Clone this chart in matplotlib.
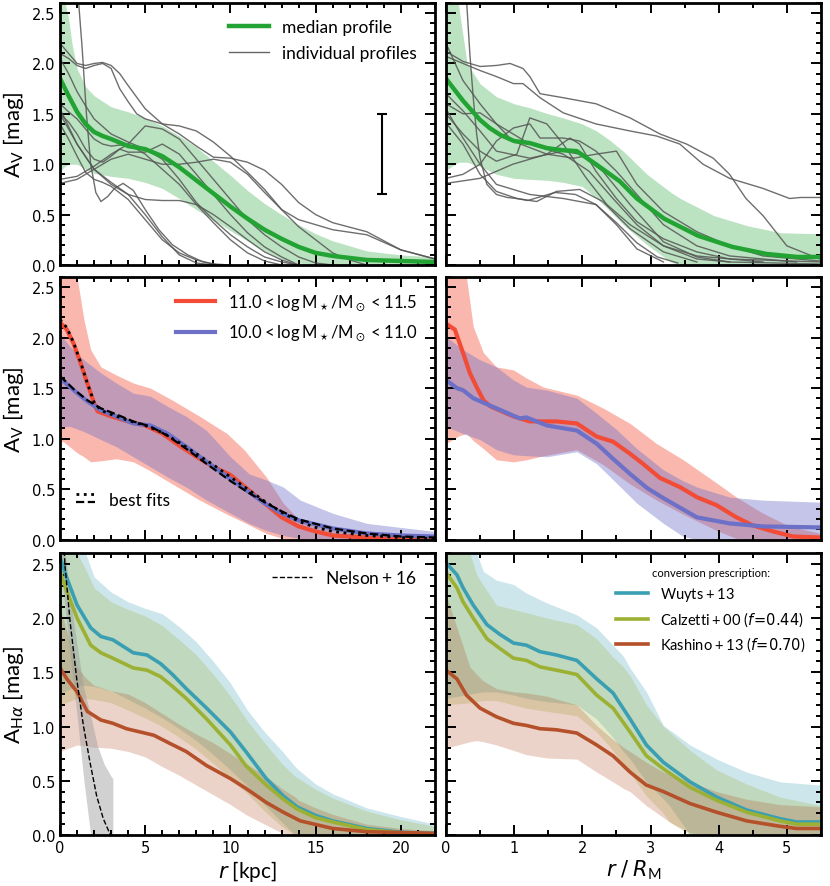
import numpy as np
import matplotlib
matplotlib.use("Agg")
import matplotlib.pyplot as plt
from matplotlib.ticker import MultipleLocator
from matplotlib.lines import Line2D
from matplotlib.legend_handler import HandlerBase

plt.rcParams['font.family'] = ['DejaVu Sans']
plt.rcParams['mathtext.fontset'] = 'dejavusans'
TXT = ['Lato', 'DejaVu Sans']

# ---------------- top row: A_V profiles, median + individuals ----------------
med_kpc = [0, 0.5, 1, 1.5, 2, 2.5, 3, 4, 5, 6, 7, 8, 9, 10, 11, 12, 13, 14, 15, 16, 17, 18, 20, 22]
med_kpc_av = [1.85, 1.68, 1.52, 1.4, 1.32, 1.28, 1.25, 1.18, 1.15, 1.08, 0.97, 0.84, 0.71, 0.58,
              0.46, 0.35, 0.26, 0.18, 0.12, 0.09, 0.07, 0.05, 0.04, 0.03]
band_kpc = [0, 0.3, 0.5, 0.7, 1, 1.5, 2, 3, 4, 5, 6, 7, 8, 9, 10, 11, 12, 13, 14, 15, 16, 18, 20, 22]
band_kpc_hi = [2.6, 2.6, 2.45, 2.2, 1.95, 1.77, 1.68, 1.57, 1.52, 1.46, 1.38, 1.28, 1.17, 1.03, 0.89,
               0.74, 0.61, 0.5, 0.4, 0.31, 0.24, 0.14, 0.1, 0.08]
band_kpc_lo = [0.93, 0.98, 1.0, 1.0, 1.0, 0.95, 0.91, 0.88, 0.86, 0.82, 0.76, 0.66, 0.55, 0.45, 0.34,
               0.24, 0.14, 0.06, 0.02, 0, 0, 0, 0, 0]

ind_kpc_x = [
    [1.05, 1.3, 1.55, 1.8, 2.1, 2.4, 2.8, 3.2, 3.7, 4.3, 5.0, 5.8, 6.6, 7.5, 8.4, 9.3],
    [0, 0.5, 1, 1.5, 2, 2.5, 3, 3.5, 4, 5, 6, 7, 8, 9, 10, 11, 12, 13, 14, 15, 16, 18, 20, 22],
    [0, 0.5, 1, 1.5, 2, 2.5, 3, 3.5, 4, 4.5, 5, 6, 7, 8, 9, 10, 11, 12, 13, 14, 15, 16, 17, 18],
    [0, 0.5, 1, 1.5, 2, 3, 4, 5, 6, 7, 8, 9, 10, 11, 12, 13, 14],
    [0, 0.5, 1, 1.5, 2, 2.5, 3, 4, 5, 6, 7, 8, 9, 10, 11, 12, 13],
    [0, 0.5, 1, 1.5, 2, 2.5, 3, 3.5, 4, 5, 6, 7, 8, 9, 10, 11, 12, 13, 14],
    [0, 0.5, 1, 1.5, 2, 2.5, 3, 4, 5, 6, 7, 8, 9, 10],
    [0, 1, 2, 3, 4, 5, 6, 7, 8, 9, 10, 11, 12, 13, 14, 15, 16],
    [0, 1, 2, 3, 4, 5, 6, 7, 8, 9, 10, 11, 12, 13, 14, 16, 18, 20, 22],
    [0, 1, 2, 3, 4, 5, 6, 7, 8, 9, 10, 11, 12, 13, 14],
    [0, 1, 2, 3, 4, 5, 6, 7, 8, 9],
]
ind_kpc_y = [
    [2.7, 2.15, 1.5, 1.0, 0.72, 0.63, 0.68, 0.76, 0.81, 0.74, 0.55, 0.35, 0.2, 0.1, 0.03, 0.0],
    [2.2, 2.1, 2.0, 1.98, 2.0, 2.01, 1.98, 1.9, 1.78, 1.55, 1.40, 1.30, 1.18, 1.07, 1.06, 1.02, 0.94,
     0.80, 0.62, 0.5, 0.42, 0.33, 0.15, 0.06],
    [2.1, 2.05, 1.98, 1.95, 1.98, 2.0, 1.95, 1.75, 1.62, 1.5, 1.45, 1.40, 1.38, 1.33, 1.22, 1.08, 0.92,
     0.75, 0.55, 0.38, 0.25, 0.12, 0.05, 0.0],
    [2.05, 1.9, 1.72, 1.58, 1.45, 1.30, 1.22, 1.15, 1.05, 0.85, 0.62, 0.45, 0.30, 0.18, 0.08, 0.03, 0.0],
    [1.6, 1.52, 1.45, 1.35, 1.25, 1.2, 1.18, 1.2, 1.1, 0.95, 0.8, 0.6, 0.42, 0.25, 0.12, 0.04, 0.0],
    [1.5, 1.42, 1.3, 1.15, 1.05, 1.02, 1.08, 1.15, 1.12, 1.12, 1.2, 1.1, 0.9, 0.7, 0.5, 0.32, 0.18, 0.08, 0.0],
    [1.4, 1.25, 1.08, 0.92, 0.85, 0.82, 0.78, 0.65, 0.45, 0.25, 0.12, 0.05, 0.01, 0.0],
    [0.85, 0.88, 0.98, 1.1, 1.2, 1.38, 1.35, 1.25, 1.05, 0.85, 0.65, 0.45, 0.3, 0.18, 0.08, 0.02, 0.0],
    [0.81, 0.85, 0.95, 1.05, 1.1, 1.05, 1.0, 1.0, 1.02, 1.05, 1.02, 0.9, 0.72, 0.55, 0.45, 0.35, 0.30,
     0.15, 0.06],
    [1.55, 1.2, 0.95, 0.8, 0.7, 0.65, 0.64, 0.64, 0.6, 0.5, 0.38, 0.25, 0.13, 0.05, 0.0],
    [1.5, 1.2, 0.95, 0.82, 0.7, 0.5, 0.28, 0.1, 0.02, 0.0],
]

med_rm = [0, 0.25, 0.5, 0.64, 0.8, 1.0, 1.23, 1.48, 1.7, 1.92, 2.2, 2.55, 2.8, 3.2, 3.7, 4.2, 4.7, 5.15, 5.5]
med_rm_av = [1.85, 1.63, 1.44, 1.36, 1.29, 1.23, 1.21, 1.16, 1.14, 1.13, 1.0, 0.83, 0.66, 0.46, 0.29,
             0.18, 0.11, 0.08, 0.08]
band_rm = [0, 0.18, 0.31, 0.5, 0.74, 1.0, 1.23, 1.5, 1.72, 2.0, 2.21, 2.4, 2.6, 2.95, 3.3, 3.44, 3.93,
           4.42, 4.91, 5.5]
band_rm_hi = [2.6, 2.6, 2.0, 1.8, 1.67, 1.6, 1.56, 1.5, 1.46, 1.4, 1.33, 1.24, 1.13, 0.9, 0.72, 0.66,
              0.49, 0.39, 0.32, 0.31]
band_rm_lo = [0.94, 1.02, 1.02, 0.98, 0.9, 0.86, 0.85, 0.84, 0.82, 0.78, 0.66, 0.54, 0.40, 0.2, 0.03,
              0, 0, 0, 0, 0]

ind_rm_x = [
    [0.3, 0.35, 0.4, 0.45, 0.5, 0.6, 0.74, 0.9, 1.04, 1.2, 1.4, 1.6, 1.9, 2.2, 2.5, 2.8, 3.1, 3.4],
    [0, 0.25, 0.5, 0.74, 0.94, 1.13, 1.23, 1.38, 1.72, 2.2, 2.7, 3.14, 3.53, 3.92, 4.16, 4.4, 4.65, 5.0, 5.48],
    [0, 0.25, 0.5, 0.74, 0.99, 1.13, 1.38, 1.72, 2.2, 2.7, 3.09, 3.43, 3.77, 4.16, 4.65, 5.04, 5.2, 5.5],
    [0, 0.25, 0.5, 0.74, 1.23, 1.72, 2.1, 2.45, 2.8, 3.19, 3.68, 4.16, 5.5],
    [0, 0.25, 0.5, 0.74, 0.98, 1.48, 1.82, 1.96, 2.2, 2.5, 2.8, 3.19, 3.68, 4.16, 5.5],
    [0, 0.25, 0.5, 0.74, 1.04, 1.23, 1.48, 1.72, 2.06, 2.36, 2.7, 3.19, 3.68, 4.65],
    [0, 0.25, 0.5, 0.74, 1.04, 1.33, 1.62, 1.96, 2.3, 2.7, 3.19, 3.68],
    [0, 0.25, 0.5, 0.74, 0.99, 1.23, 1.38, 1.72, 1.96, 2.2, 2.5, 2.8, 3.19, 3.68, 4.16, 5.14],
    [0, 0.5, 0.98, 1.48, 1.87, 2.2, 2.5, 2.8, 3.19, 3.68, 4.16, 4.65, 5.48],
    [0, 0.25, 0.5, 0.74, 1.23, 1.72, 2.2, 2.5, 2.8, 3.19],
    [0, 0.25, 0.5, 0.74, 1.23, 1.72, 1.96, 2.3, 2.7, 3.19, 3.68, 4.16],
]
ind_rm_y = [
    [2.65, 2.1, 1.66, 1.3, 1.06, 0.8, 0.7, 0.67, 0.66, 0.64, 0.68, 0.72, 0.7, 0.6, 0.42, 0.22, 0.08, 0.02],
    [2.12, 2.02, 1.97, 1.98, 2.0, 1.95, 1.87, 1.7, 1.66, 1.6, 1.46, 1.30, 1.2, 1.06, 0.9, 0.66, 0.49, 0.19, 0.06],
    [2.07, 2.0, 1.93, 1.87, 1.8, 1.8, 1.66, 1.51, 1.4, 1.33, 1.28, 1.2, 1.0, 0.86, 0.76, 0.66, 0.67, 0.67],
    [2.2, 1.83, 1.6, 1.4, 1.2, 1.1, 0.93, 0.66, 0.4, 0.19, 0.06, 0.03, 0.01],
    [1.6, 1.5, 1.51, 1.4, 1.23, 1.1, 1.26, 1.2, 0.93, 0.66, 0.43, 0.26, 0.13, 0.06, 0.03],
    [1.5, 1.3, 1.13, 1.03, 1.1, 1.46, 1.4, 1.2, 0.86, 0.6, 0.4, 0.19, 0.09, 0.03],
    [1.41, 1.2, 0.9, 0.73, 0.66, 0.63, 0.73, 0.75, 0.63, 0.36, 0.13, 0.03],
    [0.86, 0.9, 1.0, 1.23, 1.36, 1.4, 1.26, 1.26, 1.23, 1.13, 0.93, 0.7, 0.4, 0.19, 0.09, 0.03],
    [0.81, 0.86, 1.0, 1.1, 1.06, 1.1, 1.13, 0.8, 0.53, 0.33, 0.19, 0.09, 0.04],
    [1.55, 1.26, 1.0, 0.8, 0.7, 0.66, 0.6, 0.4, 0.16, 0.03],
    [1.7, 1.53, 1.33, 1.13, 1.06, 1.13, 1.1, 0.93, 0.6, 0.23, 0.08, 0.03],
]

# error bar (typical uncertainty)
err_x, err_y, err_dy = 18.9, 1.1, 0.4

# ---------------- middle row: two mass bins ----------------
hi_kpc = [0, 0.4, 0.8, 1.2, 1.6, 2.0, 2.2, 3, 4, 5, 6, 7, 8, 9, 10, 11, 12, 13, 14, 15, 16, 18, 20, 22]
hi_kpc_av = [2.15, 2.08, 1.94, 1.75, 1.55, 1.35, 1.27, 1.22, 1.17, 1.13, 1.05, 0.93, 0.82, 0.72, 0.64,
             0.5, 0.36, 0.22, 0.13, 0.08, 0.04, 0.02, 0.015, 0.01]
lo_kpc = [0, 0.8, 1.6, 2.4, 3.3, 4.3, 5.3, 6.3, 7.4, 8.6, 10, 11, 12, 13, 14, 16, 18, 20, 22]
lo_kpc_av = [1.6, 1.48, 1.37, 1.28, 1.22, 1.15, 1.13, 1.05, 0.92, 0.77, 0.6, 0.48, 0.36, 0.26, 0.19,
             0.11, 0.06, 0.04, 0.03]
fit_hi_kpc = [0, 0.4, 0.8, 1.2, 1.6, 2.0, 2.4, 3, 4, 5, 6, 7, 8, 9, 10, 11, 12, 13, 14, 15, 16, 18, 20, 22]
fit_hi_av = [2.18, 2.1, 1.95, 1.76, 1.55, 1.36, 1.28, 1.24, 1.18, 1.13, 1.06, 0.96, 0.85, 0.74, 0.62,
             0.5, 0.38, 0.27, 0.18, 0.12, 0.08, 0.04, 0.02, 0.01]
fit_lo_kpc = [0, 0.8, 1.6, 2.4, 3.3, 4.3, 5.3, 6.3, 7.4, 8.6, 10, 11, 12, 13, 14, 16, 18, 20, 22]
fit_lo_av = [1.62, 1.49, 1.38, 1.3, 1.24, 1.17, 1.12, 1.03, 0.9, 0.75, 0.58, 0.47, 0.37, 0.28, 0.2,
             0.11, 0.06, 0.03, 0.02]
hi_band_kpc = [0, 0.2, 1.0, 1.4, 1.8, 2.4, 3.3, 4.3, 5.3, 6.6, 8.2, 9.8, 10.8, 12.1, 13.1, 14, 16, 18, 22]
hi_band_kpc_hi = [2.6, 2.6, 2.6, 2.18, 1.88, 1.71, 1.63, 1.55, 1.5, 1.38, 1.22, 1.05, 0.89, 0.62, 0.36,
                  0.2, 0.1, 0.05, 0.02]
hi_band_kpc_lo = [0.97, 0.97, 0.86, 0.82, 0.77, 0.78, 0.80, 0.77, 0.68, 0.55, 0.39, 0.25, 0.17, 0.06,
                  0.01, 0, 0, 0, 0]
lo_band_kpc = [0, 0.6, 1.4, 2.4, 3.3, 4.3, 5.3, 6.3, 7.4, 8.6, 10, 11.1, 12.1, 13.1, 14.1, 16, 18, 22]
lo_band_kpc_hi = [2.04, 1.91, 1.78, 1.65, 1.55, 1.45, 1.42, 1.32, 1.22, 1.08, 0.82, 0.65, 0.59, 0.52,
                  0.39, 0.26, 0.16, 0.08]
lo_band_kpc_lo = [1.12, 1.12, 1.07, 0.99, 0.92, 0.82, 0.72, 0.62, 0.52, 0.39, 0.26, 0.16, 0.09, 0.04,
                  0.01, 0, 0, 0]

hi_rm = [0, 0.13, 0.25, 0.35, 0.45, 0.55, 0.65, 0.99, 1.23, 1.62, 1.92, 2.21, 2.45, 2.7, 2.89, 3.14,
         3.43, 3.68, 3.97, 4.26, 4.5, 4.8, 5.09, 5.5]
hi_rm_av = [2.14, 2.08, 1.85, 1.65, 1.51, 1.38, 1.32, 1.22, 1.17, 1.17, 1.15, 1.02, 0.97, 0.85, 0.75,
            0.61, 0.52, 0.42, 0.34, 0.22, 0.14, 0.08, 0.03, 0.02]
lo_rm = [0, 0.16, 0.25, 0.4, 0.74, 1.08, 1.18, 1.48, 1.92, 2.21, 2.45, 2.7, 2.95, 3.19, 3.68, 4.16, 4.65, 5.5]
lo_rm_av = [1.58, 1.5, 1.48, 1.4, 1.3, 1.2, 1.21, 1.13, 1.08, 0.95, 0.8, 0.65, 0.51, 0.41, 0.22, 0.16,
            0.13, 0.12]
hi_band_rm = [0, 0.2, 0.3, 0.4, 0.55, 0.74, 0.99, 1.18, 1.43, 1.92, 2.31, 2.7, 3.09, 3.48, 3.97, 4.26,
              4.65, 5.04, 5.5]
hi_band_rm_hi = [2.6, 2.6, 2.6, 2.11, 1.85, 1.71, 1.68, 1.6, 1.51, 1.43, 1.30, 1.15, 0.95, 0.79, 0.56,
                 0.42, 0.26, 0.13, 0.06]
hi_band_rm_lo = [0.95, 1.03, 1.05, 0.98, 0.9, 0.79, 0.77, 0.79, 0.83, 0.89, 0.74, 0.55, 0.39, 0.25,
                 0.09, 0.01, 0, 0, 0]
lo_band_rm = [0, 0.25, 0.5, 0.74, 0.99, 1.18, 1.48, 1.92, 2.21, 2.5, 2.8, 3.19, 3.48, 3.68, 4.16, 4.65, 5.5]
lo_band_rm_hi = [2.01, 1.88, 1.78, 1.71, 1.58, 1.51, 1.48, 1.40, 1.25, 1.09, 0.9, 0.69, 0.58, 0.52,
                 0.42, 0.39, 0.37]
lo_band_rm_lo = [1.12, 1.05, 0.99, 0.89, 0.84, 0.83, 0.82, 0.87, 0.75, 0.56, 0.36, 0.16, 0.03, 0, 0, 0, 0]

# ---------------- bottom row: A_Halpha for three conversions ----------------
ha_kpc = [0, 0.4, 1, 1.8, 2.4, 3.1, 3.9, 4.3, 5.1, 5.9, 6.6, 7.4, 8.6, 10, 10.9, 12.1, 13.1, 13.9, 15,
          16, 18, 20, 22]
wuyts_kpc = [2.56, 2.37, 2.12, 1.91, 1.83, 1.8, 1.72, 1.68, 1.66, 1.58, 1.48, 1.35, 1.17, 0.95, 0.77,
             0.52, 0.36, 0.26, 0.18, 0.13, 0.06, 0.025, 0.015]
calz_kpc = [2.43, 2.25, 2.0, 1.75, 1.68, 1.63, 1.57, 1.54, 1.52, 1.46, 1.37, 1.26, 1.07, 0.83, 0.64,
            0.46, 0.33, 0.24, 0.16, 0.12, 0.05, 0.02, 0.01]
kash_x_kpc = [0, 0.4, 1, 1.6, 2.4, 3.1, 3.9, 4.7, 5.5, 6.5, 7.4, 8.6, 10, 10.9, 12.1, 13.1, 14.1, 16, 18, 22]
kash_kpc = [1.54, 1.44, 1.32, 1.14, 1.06, 1.03, 0.98, 0.95, 0.92, 0.84, 0.77, 0.64, 0.52, 0.43, 0.3,
            0.21, 0.13, 0.06, 0.03, 0.015]
ha_band_kpc = [0, 1, 1.5, 2, 3, 4, 5, 6, 7, 8, 9, 10, 11, 12, 13, 13.8, 14, 15, 16, 18, 20, 22]
wuyts_kpc_hi = [2.6, 2.6, 2.6, 2.38, 2.24, 2.15, 2.09, 2.04, 1.92, 1.78, 1.6, 1.4, 1.15, 0.95, 0.78,
                0.63, 0.6, 0.47, 0.38, 0.25, 0.17, 0.1]
wuyts_kpc_lo = [1.3, 1.38, 1.38, 1.37, 1.33, 1.25, 1.17, 1.08, 0.98, 0.87, 0.74, 0.6, 0.45, 0.28, 0.12,
                0, 0, 0, 0, 0, 0, 0]
calz_kpc_hi = [2.6, 2.6, 2.45, 2.28, 2.15, 2.08, 2.02, 1.93, 1.8, 1.66, 1.48, 1.28, 1.05, 0.85, 0.66,
               0.54, 0.52, 0.42, 0.34, 0.22, 0.14, 0.08]
calz_kpc_lo = [1.2, 1.26, 1.26, 1.25, 1.22, 1.15, 1.08, 1.0, 0.9, 0.79, 0.66, 0.52, 0.38, 0.22, 0.08,
               0, 0, 0, 0, 0, 0, 0]
kash_kpc_hi = [2.1, 1.55, 1.45, 1.38, 1.33, 1.3, 1.22, 1.12, 1.02, 0.93, 0.85, 0.75, 0.65, 0.55, 0.43,
               0.35, 0.32, 0.25, 0.19, 0.1, 0.06, 0.04]
kash_kpc_lo = [0.77, 0.83, 0.82, 0.81, 0.8, 0.77, 0.72, 0.63, 0.55, 0.46, 0.37, 0.28, 0.18, 0.1, 0.02,
               0, 0, 0, 0, 0, 0, 0]

nelson_kpc = [0.25, 0.29, 0.59, 0.98, 1.37, 1.76, 2.15, 2.54, 2.93, 3.0]
nelson_ha = [2.62, 2.49, 1.97, 1.44, 1.01, 0.67, 0.36, 0.15, 0.01, 0.0]
nelson_band_kpc = [0, 0.3, 0.6, 1.0, 1.4, 1.8, 2.2, 2.6, 3.0, 3.1]
nelson_band_hi = [2.6, 2.6, 2.2, 1.75, 1.35, 1.1, 0.82, 0.65, 0.54, 0.52]
nelson_band_lo = [2.5, 2.1, 1.65, 1.1, 0.5, 0.0, 0, 0, 0, 0]

ha_rm = [0, 0.16, 0.25, 0.4, 0.6, 0.79, 0.99, 1.18, 1.38, 1.62, 1.92, 2.21, 2.45, 2.7, 2.94, 3.19,
         3.58, 3.97, 4.41, 4.9, 5.14, 5.5]
wuyts_rm = [2.51, 2.4, 2.28, 2.12, 1.94, 1.85, 1.77, 1.75, 1.69, 1.66, 1.61, 1.44, 1.31, 1.07, 0.83,
            0.67, 0.49, 0.35, 0.23, 0.15, 0.12, 0.12]
calz_rm = [2.42, 2.28, 2.15, 2.0, 1.81, 1.72, 1.63, 1.61, 1.55, 1.52, 1.48, 1.29, 1.17, 0.95, 0.73,
           0.61, 0.44, 0.32, 0.21, 0.13, 0.1, 0.1]
kash_x_rm = [0, 0.16, 0.3, 0.5, 0.74, 0.99, 1.18, 1.38, 1.62, 1.92, 2.21, 2.45, 2.7, 2.94, 3.19, 3.58,
             3.97, 4.41, 4.9, 5.14, 5.5]
kash_rm = [1.52, 1.44, 1.29, 1.17, 1.09, 1.03, 1.01, 0.98, 0.97, 0.94, 0.83, 0.73, 0.58, 0.46, 0.4,
           0.29, 0.21, 0.13, 0.08, 0.06, 0.06]
ha_band_rm = [0, 0.35, 0.45, 0.55, 0.74, 0.99, 1.18, 1.48, 1.92, 2.21, 2.45, 2.6, 2.7, 2.94, 3.19, 3.28,
              3.58, 3.97, 4.41, 4.9, 5.5]
wuyts_rm_hi = [2.6, 2.6, 2.6, 2.43, 2.35, 2.31, 2.23, 2.14, 2.03, 1.91, 1.75, 1.65, 1.54, 1.32, 1.01,
               0.97, 0.83, 0.70, 0.58, 0.49, 0.46]
wuyts_rm_lo = [1.26, 1.3, 1.31, 1.32, 1.32, 1.29, 1.26, 1.23, 1.2, 1.07, 0.9, 0.77, 0.7, 0.49, 0.33,
               0.27, 0.0, 0, 0, 0, 0]
calz_rm_hi = [2.6, 2.6, 2.4, 2.3, 2.12, 2.08, 2.05, 2.0, 1.94, 1.81, 1.64, 1.55, 1.47, 1.2, 1.0, 0.95,
              0.78, 0.6, 0.47, 0.35, 0.27]
calz_rm_lo = [1.2, 1.22, 1.23, 1.24, 1.24, 1.2, 1.17, 1.14, 1.1, 0.95, 0.78, 0.64, 0.57, 0.36, 0.2,
              0.12, 0.0, 0, 0, 0, 0]
kash_rm_hi = [2.22, 1.55, 1.48, 1.42, 1.35, 1.32, 1.31, 1.28, 1.2, 1.01, 0.88, 0.81, 0.77, 0.67, 0.58,
              0.56, 0.49, 0.4, 0.33, 0.28, 0.26]
kash_rm_lo = [0.8, 0.86, 0.87, 0.86, 0.83, 0.78, 0.74, 0.71, 0.7, 0.58, 0.49, 0.43, 0.4, 0.27, 0.16,
              0.12, 0.02, 0, 0, 0, 0]

# colours
c_green = '#22a334'
c_red = '#f24b36'
c_blue = '#6c70c6'
c_teal = '#3a9fb2'
c_olive = '#9cb034'
c_rust = '#b4512a'


class HandlerStack(HandlerBase):
    # two short lines stacked vertically (for the "best fits" key)
    def create_artists(self, legend, orig_handle, xdescent, ydescent, width, height, fontsize, trans):
        arts = []
        for i, h in enumerate(orig_handle):
            yy = height * (0.95 - 0.7 * i) - ydescent
            arts.append(Line2D([-xdescent, width - xdescent], [yy, yy], color=h.get_color(),
                               ls=h.get_linestyle(), lw=h.get_linewidth(), transform=trans))
        return arts


def leg_font(size):
    return {'family': TXT, 'size': size}


fig = plt.figure(figsize=(8.3, 8.87), dpi=100)
xl, xr, w = 0.0723, 0.5373, 0.4518
ax_tl = fig.add_axes([xl, 0.7001, w, 0.2954])
ax_tr = fig.add_axes([xr, 0.7001, w, 0.2954])
ax_ml = fig.add_axes([xl, 0.3906, w, 0.2959])
ax_mr = fig.add_axes([xr, 0.3906, w, 0.2959])
ax_bl = fig.add_axes([xl, 0.0575, w, 0.3179])
ax_br = fig.add_axes([xr, 0.0575, w, 0.3179])

for ax in [ax_tl, ax_tr, ax_ml, ax_mr, ax_bl, ax_br]:
    ax.set_ylim(0, 2.6)
    ax.yaxis.set_major_locator(MultipleLocator(0.5))
    ax.yaxis.set_minor_locator(MultipleLocator(0.1))
    ax.tick_params(which='both', direction='in', top=True, right=True, labelsize=10.5,
                   width=1.4)
    ax.tick_params(which='major', length=7)
    ax.tick_params(which='minor', length=3.5)
    for sp in ax.spines.values():
        sp.set_linewidth(2.0)
for ax in [ax_tl, ax_ml, ax_bl]:
    ax.set_xlim(0, 22)
    ax.xaxis.set_major_locator(MultipleLocator(5))
    ax.xaxis.set_minor_locator(MultipleLocator(1))
for ax in [ax_tr, ax_mr, ax_br]:
    ax.set_xlim(0, 5.5)
    ax.xaxis.set_major_locator(MultipleLocator(1))
    ax.xaxis.set_minor_locator(MultipleLocator(0.5))
    ax.tick_params(labelleft=False)
for ax in [ax_tl, ax_tr, ax_ml, ax_mr]:
    ax.tick_params(labelbottom=False)

# ---- top row
ax_tl.fill_between(band_kpc, band_kpc_lo, band_kpc_hi, color=c_green, alpha=0.3, lw=0)
for xs, ys in zip(ind_kpc_x, ind_kpc_y):
    ax_tl.plot(xs, ys, color='#555555', lw=1.0, alpha=0.85)
ax_tl.plot(med_kpc, med_kpc_av, color=c_green, lw=3.2, label='median profile')
ax_tl.plot([], [], color='#666666', lw=1.0, label='individual profiles')
ax_tl.errorbar([err_x], [err_y], yerr=[err_dy], color='k', lw=1.5, capsize=3.5, capthick=1.5)
ax_tl.legend(loc='upper right', frameon=False, prop=leg_font(12.5), handlelength=2.3,
             borderaxespad=0.3, labelspacing=0.6, bbox_to_anchor=(0.985, 0.985))
ax_tl.set_ylabel(r'A$_\mathregular{V}$ [mag]', fontsize=16, family=TXT)

ax_tr.fill_between(band_rm, band_rm_lo, band_rm_hi, color=c_green, alpha=0.3, lw=0)
for xs, ys in zip(ind_rm_x, ind_rm_y):
    ax_tr.plot(xs, ys, color='#555555', lw=1.0, alpha=0.85)
ax_tr.plot(med_rm, med_rm_av, color=c_green, lw=3.2)

# ---- middle row
ax_ml.fill_between(hi_band_kpc, hi_band_kpc_lo, hi_band_kpc_hi, color=c_red, alpha=0.4, lw=0)
ax_ml.fill_between(lo_band_kpc, lo_band_kpc_lo, lo_band_kpc_hi, color=c_blue, alpha=0.4, lw=0)
l_hi, = ax_ml.plot(hi_kpc, hi_kpc_av, color=c_red, lw=3,
                   label=r'$\mathregular{11.0 < log\,M_\star/M_\odot < 11.5}$')
l_lo, = ax_ml.plot(lo_kpc, lo_kpc_av, color=c_blue, lw=3,
                   label=r'$\mathregular{10.0 < log\,M_\star/M_\odot < 11.0}$')
f_hi, = ax_ml.plot(fit_hi_kpc, fit_hi_av, color='k', ls=':', lw=2)
f_lo, = ax_ml.plot(fit_lo_kpc, fit_lo_av, color='k', ls='--', lw=1.6)
leg1 = ax_ml.legend(handles=[l_hi, l_lo], loc='upper right', frameon=False, prop=leg_font(12),
                    handlelength=2.3, borderaxespad=0.3, labelspacing=0.6,
                    bbox_to_anchor=(0.985, 0.985))
ax_ml.add_artist(leg1)
ax_ml.legend(handles=[(f_hi, f_lo)], labels=['best fits'], handler_map={tuple: HandlerStack()},
             loc='lower left', frameon=False, prop=leg_font(12.5), handlelength=1.1,
             bbox_to_anchor=(0.0, 0.06))
ax_ml.set_ylabel(r'A$_\mathregular{V}$ [mag]', fontsize=16, family=TXT)

ax_mr.fill_between(hi_band_rm, hi_band_rm_lo, hi_band_rm_hi, color=c_red, alpha=0.4, lw=0)
ax_mr.fill_between(lo_band_rm, lo_band_rm_lo, lo_band_rm_hi, color=c_blue, alpha=0.4, lw=0)
ax_mr.plot(hi_rm, hi_rm_av, color=c_red, lw=3)
ax_mr.plot(lo_rm, lo_rm_av, color=c_blue, lw=3)

# ---- bottom row
ax_bl.fill_between(ha_band_kpc, wuyts_kpc_lo, wuyts_kpc_hi, color=c_teal, alpha=0.25, lw=0)
ax_bl.fill_between(ha_band_kpc, calz_kpc_lo, calz_kpc_hi, color=c_olive, alpha=0.25, lw=0)
ax_bl.fill_between(ha_band_kpc, kash_kpc_lo, kash_kpc_hi, color=c_rust, alpha=0.25, lw=0)
ax_bl.fill_between(nelson_band_kpc, nelson_band_lo, nelson_band_hi, color='#9a9a9a', alpha=0.45, lw=0)
ax_bl.plot(ha_kpc, wuyts_kpc, color=c_teal, lw=2.6)
ax_bl.plot(ha_kpc, calz_kpc, color=c_olive, lw=2.6)
ax_bl.plot(kash_x_kpc, kash_kpc, color=c_rust, lw=2.6)
ax_bl.plot(nelson_kpc, nelson_ha, color='k', ls='--', lw=1.0, label=r'$\mathregular{Nelson+16}$')
ax_bl.legend(loc='upper right', frameon=False, prop=leg_font(12.5), handlelength=2.3,
             borderaxespad=0.3, bbox_to_anchor=(0.985, 0.985))
ax_bl.set_ylabel(r'A$_{\mathregular{H}\alpha}$ [mag]', fontsize=16, family=TXT)
ax_bl.set_xlabel(r'$r$ [kpc]', fontsize=15, labelpad=2, family=TXT)

ax_br.fill_between(ha_band_rm, wuyts_rm_lo, wuyts_rm_hi, color=c_teal, alpha=0.25, lw=0)
ax_br.fill_between(ha_band_rm, calz_rm_lo, calz_rm_hi, color=c_olive, alpha=0.25, lw=0)
ax_br.fill_between(ha_band_rm, kash_rm_lo, kash_rm_hi, color=c_rust, alpha=0.25, lw=0)
ax_br.plot(ha_rm, wuyts_rm, color=c_teal, lw=2.6, label=r'$\mathregular{Wuyts+13}$')
ax_br.plot(ha_rm, calz_rm, color=c_olive, lw=2.6,
           label=r'$\mathregular{Calzetti+00}$ ($f\!=\!0.44$)')
ax_br.plot(kash_x_rm, kash_rm, color=c_rust, lw=2.6,
           label=r'$\mathregular{Kashino+13}$ ($f\!=\!0.70$)')
leg = ax_br.legend(loc='upper right', frameon=False, prop=leg_font(10.5), handlelength=2.2,
                   title='conversion prescription:', title_fontproperties=leg_font(8),
                   borderaxespad=0.3, labelspacing=0.45, bbox_to_anchor=(0.985, 0.985))
ax_br.set_xlabel(r'$r\;/\;R_\mathregular{M}$', fontsize=15, labelpad=2, family=TXT)

fig.savefig('out.png', dpi=100)
